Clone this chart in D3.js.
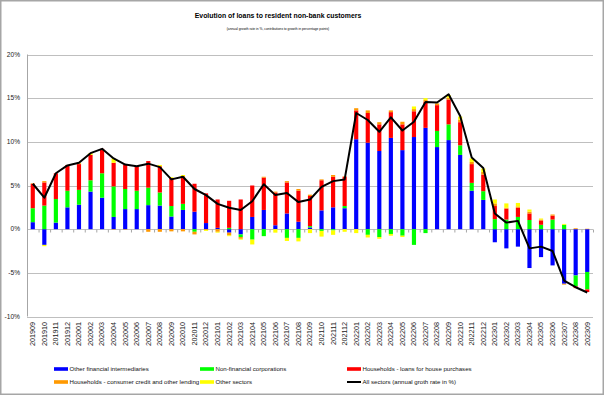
<!DOCTYPE html>
<html>
<head>
<meta charset="utf-8">
<script src="https://cdn.jsdelivr.net/npm/d3@7"></script>
<style>
  body { margin: 0; background: #fff; }
  svg { display: block; font-family: "Liberation Sans", Arial, sans-serif; }
</style>
</head>
<body>
<svg id="chart" width="604" height="395"></svg>
<script>
// months 201909 .. 202309
const months = ['201909','201910','201911','201912','202001','202002','202003','202004','202005','202006','202007','202008','202009','202010','202011','202012',
  '202101','202102','202103','202104','202105','202106','202107','202108','202109','202110','202111','202112',
  '202201','202202','202203','202204','202205','202206','202207','202208','202209','202210','202211','202212',
  '202301','202302','202303','202304','202305','202306','202307','202308','202309']

const otherFin = [0.8,-1.8,0.75,2.5,2.8,4.3,3.6,1.4,2.3,2.3,2.75,2.7,1.45,2.2,2.0,0.7,
  0.15,-0.4,-0.6,1.4,2.2,0.45,1.8,0.85,0.2,2.15,2.5,2.4,
  10.3,9.9,8.95,10.45,9.05,10.55,11.6,9.4,10.2,8.5,4.4,3.35,
  -1.5,-2.2,-2.0,-4.45,-3.2,-4.15,-6.25,-5.3,-4.9]
const nonFinCorp = [1.6,2.7,2.7,1.9,1.7,1.3,2.8,3.5,2.3,2.1,2.0,1.5,1.2,0.7,-0.3,0,
  0,0.15,-0.3,-1.2,-0.8,0,-1.0,-1.0,0.15,-0.2,-0.15,0.25,
  0,-0.65,-0.9,-0.55,-0.75,-1.8,-0.45,1.85,1.8,1.1,0.9,1.0,
  1.15,1.1,1.4,1.05,0.5,1.1,0.5,-1.25,-2.0]
const hhHouse = [2.8,2.65,2.95,2.95,2.95,2.9,2.8,2.7,2.8,2.8,3.05,3.0,3.2,3.15,3.2,3.4,
  3.25,3.1,3.4,3.6,3.7,3.75,3.55,3.55,3.45,3.45,3.5,3.35,
  3.3,3.4,3.05,2.95,2.95,2.95,3.0,2.95,2.85,2.65,2.15,1.9,
  1.5,1.25,1.05,0.75,0.5,0.45,0,-0.2,-0.3]
const hhConsumer = [0.05,0.15,0,0,0.1,0,0,-0.05,-0.05,0,-0.3,-0.3,-0.25,-0.25,-0.3,-0.1,
  -0.3,-0.3,-0.2,0,0.1,0.1,0.15,0.2,0.15,0.1,0.2,0.05,
  0.25,0.3,0.25,0.2,0.3,0.25,0.2,0.2,0.2,0.3,0.25,0.3,
  0.3,0.1,0.15,0.2,0.1,0.13,-0.1,0.1,0.05]
const otherSect = [0,-0.15,0,0,0.05,0.2,0,0.5,0,0,0,0.15,0.1,0.15,0,-0.1,
  -0.1,-0.1,-0.1,-0.55,0,-0.4,-0.35,-0.4,-0.45,-0.65,-0.5,-0.3,
  -0.45,-0.3,-0.2,-0.2,-0.15,0.3,0.2,0,0.3,0.35,0.4,0.4,
  0.45,0.5,0.4,0.25,0.12,0,0.1,0,0]
const allSectors = [5.2,3.6,6.4,7.3,7.6,8.7,9.2,8.1,7.4,7.2,7.5,7.1,5.7,6.0,4.6,3.9,
  2.9,2.45,2.2,3.2,5.15,3.9,4.15,3.1,3.4,4.85,5.5,5.7,
  13.3,12.5,11.15,12.8,11.3,12.3,14.55,14.5,15.45,12.95,8.2,7.0,
  1.8,0.75,0.95,-2.2,-2.0,-2.5,-5.9,-6.65,-7.25]

const yTicks = [-10,-5,0,5,10,15,20]

const seriesNames = ['Other financial intermediaries','Non-financial corporations','Households - loans for house purchases',
  'Households - consumer credit and other lending','Other sectors']
const seriesColors = ['#0000ff','#00ff00','#ff0000','#ff9900','#ffff00']
const keys = ['ofi','nfc','house','cons','other']

let table = months.map((m, i) => ({
  month: m,
  ofi: otherFin[i],
  nfc: nonFinCorp[i],
  house: hhHouse[i],
  cons: hhConsumer[i],
  other: otherSect[i],
  all: allSectors[i]
}))

let svg = d3.select('#chart')
let W = 604, H = 395
let plotLeft = 27, plotRight = 593, plotTop = 54.5, plotBottom = 316.5

// frame
svg.append('rect')
  .attr('x', 0.75).attr('y', 0.75).attr('width', W - 1.5).attr('height', H - 1.5)
  .attr('fill', '#fff').attr('stroke', '#a6a6a6').attr('stroke-width', 1.5)

let x = d3.scaleBand().domain(months).range([plotLeft, plotRight]).paddingInner(0.64).paddingOuter(0.32)
let y = d3.scaleLinear().domain([-10, 20]).range([plotBottom, plotTop])

// title
svg.append('text')
  .attr('x', 278).attr('y', 18).attr('text-anchor', 'middle')
  .attr('font-weight', 'bold').attr('font-size', 6.9)
  .text('Evolution of loans to resident non-bank customers')
svg.append('text')
  .attr('x', 278).attr('y', 30).attr('text-anchor', 'middle')
  .attr('font-size', 3.3)
  .text('(annual growth rate in %, contributions to growth in percentage points)')

// gridlines
svg.append('g')
  .selectAll('line')
  .data(yTicks)
  .join('line')
  .attr('x1', plotLeft).attr('x2', plotRight)
  .attr('y1', d => Math.round(y(d)) + 0.5).attr('y2', d => Math.round(y(d)) + 0.5)
  .attr('stroke', '#bfbfbf').attr('stroke-width', 1)

// y axis line
svg.append('line')
  .attr('x1', plotLeft + 0.5).attr('x2', plotLeft + 0.5)
  .attr('y1', y(20)).attr('y2', y(-10))
  .attr('stroke', '#a6a6a6')

svg.append('g')
  .selectAll('text')
  .data(yTicks)
  .join('text')
  .attr('x', 20).attr('y', d => y(d) + 2.3)
  .attr('text-anchor', 'end').attr('font-size', 6.6).attr('fill', '#222')
  .text(d => d + '%')

// stacked bars
let stack = d3.stack().keys(keys).offset(d3.stackOffsetDiverging)
let layers = stack(table)

svg.append('g')
  .selectAll('g')
  .data(layers)
  .join('g')
  .attr('fill', (d, i) => seriesColors[i])
  .selectAll('rect')
  .data(d => d)
  .join('rect')
  .attr('x', d => x(d.data.month))
  .attr('width', x.bandwidth())
  .attr('y', d => y(Math.max(d[0], d[1])))
  .attr('height', d => Math.abs(y(d[0]) - y(d[1])))

// category ticks along zero line
let zeroY = Math.round(y(0)) + 0.5
svg.append('g')
  .selectAll('line')
  .data(months.concat(['end']))
  .join('line')
  .attr('x1', (d, i) => plotLeft + i * x.step() + 0.5)
  .attr('x2', (d, i) => plotLeft + i * x.step() + 0.5)
  .attr('y1', zeroY).attr('y2', zeroY + 3)
  .attr('stroke', '#a6a6a6')

// x labels
svg.append('g')
  .selectAll('text')
  .data(months)
  .join('text')
  .attr('transform', d => `translate(${x(d) + x.bandwidth() / 2 + 2.4},322) rotate(-90)`)
  .attr('text-anchor', 'end').attr('font-size', 7.2).attr('fill', '#222')
  .text(d => d)

// all sectors line
let line = d3.line()
  .x(d => x(d.month) + x.bandwidth() / 2)
  .y(d => y(d.all))
svg.append('path')
  .datum(table)
  .attr('d', line)
  .attr('fill', 'none').attr('stroke', '#000').attr('stroke-width', 2)
  .attr('stroke-linejoin', 'round')

// legend
let legendItems = [
  { name: seriesNames[0], color: seriesColors[0], lx: 54, ly: 369 },
  { name: seriesNames[1], color: seriesColors[1], lx: 200, ly: 369 },
  { name: seriesNames[2], color: seriesColors[2], lx: 347, ly: 369 },
  { name: seriesNames[3], color: seriesColors[3], lx: 54, ly: 382 },
  { name: seriesNames[4], color: seriesColors[4], lx: 200, ly: 382 },
  { name: 'All sectors (annual groth rate in %)', color: '#000', lx: 347, ly: 382 }
]
let lg = svg.append('g')
  .selectAll('g')
  .data(legendItems)
  .join('g')
  .attr('transform', d => `translate(${d.lx},${d.ly})`)
lg.append('rect')
  .attr('x', 0).attr('y', (d, i) => i === 5 ? -1 : -1.8)
  .attr('width', 14).attr('height', (d, i) => i === 5 ? 2 : 3.6)
  .attr('fill', d => d.color)
lg.append('text')
  .attr('x', 15.5).attr('y', 2.3)
  .attr('font-size', 6.1).attr('fill', '#111')
  .text(d => d.name)
</script>
</body>
</html>
